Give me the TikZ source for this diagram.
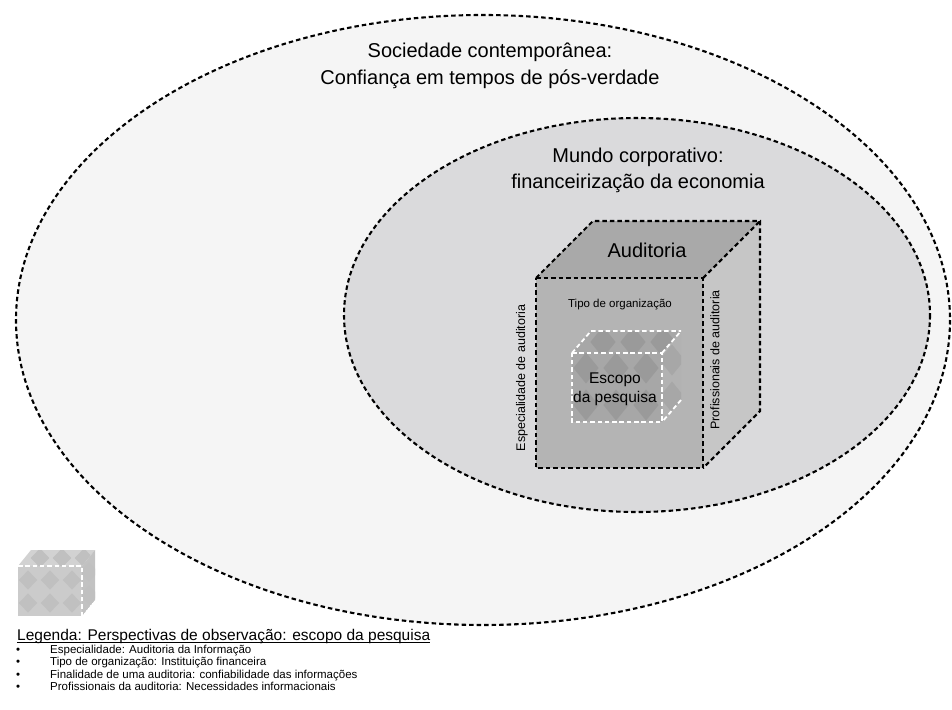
\documentclass[tikz,border=0pt]{standalone}
\usepackage{fontspec}
\setmainfont{Liberation Sans}
\definecolor{societyfill}{HTML}{F5F5F5}
\definecolor{worldfill}{HTML}{DADADC}
\definecolor{cubetop}{HTML}{A9A9A9}
\definecolor{cubefront}{HTML}{B4B4B4}
\definecolor{cuberight}{HTML}{C6C6C6}
\definecolor{scopebase}{HTML}{A7A7A7}
\definecolor{scopedot}{HTML}{9A9A9A}
\definecolor{scoperight}{HTML}{B2B2B2}
\definecolor{keybase}{HTML}{CBCBCB}
\definecolor{keydot}{HTML}{C0C0C0}
\definecolor{keytop}{HTML}{D2D2D2}
\definecolor{keyright}{HTML}{C2C2C2}
% grid of diamonds: first centre (#1,#2), steps #3 and #4, counts #5 and #6, colour #7
\newcommand\argylegrid[7]{%
  \foreach \ci in {0,...,#5}{\foreach \ri in {0,...,#6}{%
    \fill[#7] ({#1+#3*\ci},{#2+#4*\ri-0.42*#4}) -- ++({0.42*#3},{0.42*#4})
      -- ++({-0.42*#3},{0.42*#4}) -- ++({-0.42*#3},{-0.42*#4}) -- cycle;
  }}}
\begin{document}
\begin{tikzpicture}[x=1pt,y=-1pt,
  blackdash/.style={line width=2.1pt, dash pattern=on 4.5pt off 3pt, black},
  whitedash/.style={line width=1.8pt, dash pattern=on 4.5pt off 2.8pt, white},
  bigtext/.style={font=\fontsize{20}{24}\selectfont, anchor=base, inner sep=0pt},
  scopetext/.style={font=\fontsize{15.5}{18}\selectfont, anchor=base, inner sep=0pt},
  facetext/.style={font=\fontsize{11.5}{14}\selectfont, anchor=base, inner sep=0pt},
  sidetext/.style={font=\fontsize{12.5}{15}\selectfont, rotate=90, inner sep=0pt},
  keytitle/.style={font=\fontsize{15.5}{18}\selectfont, anchor=base west, inner sep=0pt},
  keyitem/.style={font=\fontsize{11.5}{13}\selectfont, anchor=base west, inner sep=0pt},
]
\useasboundingbox (0,0) rectangle (952,709);
\fill[white] (0,0) rectangle (952,709);

% outer ring: contemporary society
\fill[societyfill] (483,320) ellipse [x radius=467, y radius=305];
\draw[blackdash] (483,320) ellipse [x radius=467, y radius=305];
\node[bigtext] (society1) at (490,57) {Sociedade contemporânea:};
\node[bigtext] (society2) at (490,84) {Confiança em tempos de pós-verdade};

% inner ring: corporate world
\fill[worldfill] (637,315) ellipse [x radius=293, y radius=197];
\draw[blackdash] (637,315) ellipse [x radius=293, y radius=197];
\node[bigtext] (world1) at (638,162) {Mundo corporativo:};
\node[bigtext] (world2) at (638,188) {financeirização da economia};

% audit cube
\coordinate (a1) at (536,278);
\coordinate (a2) at (703,278);
\coordinate (a3) at (703,468);
\coordinate (a4) at (536,468);
\coordinate (b1) at (593,221);
\coordinate (b2) at (760,221);
\coordinate (b3) at (760,411);
\fill[cubetop] (a1) -- (b1) -- (b2) -- (a2) -- cycle;
\fill[cuberight] (a2) -- (b2) -- (b3) -- (a3) -- cycle;
\fill[cubefront] (a1) -- (a2) -- (a3) -- (a4) -- cycle;
\draw[blackdash] (a1) -- (a2) -- (a3) -- (a4) -- cycle;
\draw[blackdash] (a1) -- (b1) -- (b2) -- (b3) -- (a3);
\draw[blackdash] (a2) -- (b2);
\node[bigtext] (audit) at (647,257) {Auditoria};
\node[facetext] (orgtype) at (620,307) {Tipo de organização};
\node[sidetext] (specialty) at (522,378) {Especialidade de auditoria};
\node[sidetext] (staff) at (715,360) {Profissionais de auditoria};

% research scope cube
\coordinate (c1) at (572,353);
\coordinate (c2) at (662,353);
\coordinate (c3) at (662,422);
\coordinate (c4) at (572,422);
\coordinate (e1) at (591,331);
\coordinate (e2) at (681,331);
\coordinate (e3) at (681,400);
\begin{scope}
  \clip (c1) -- (e1) -- (e2) -- (c2) -- cycle;
  \fill[scopebase] (c1) -- (e1) -- (e2) -- (c2) -- cycle;
  \argylegrid{603}{342}{30}{37}{2}{0}{scopedot}
\end{scope}
\begin{scope}
  \clip (c2) -- (e2) -- (e3) -- (c3) -- cycle;
  \fill[scoperight] (c2) -- (e2) -- (e3) -- (c3) -- cycle;
  \argylegrid{672}{360}{30}{37}{0}{1}{scopebase}
\end{scope}
\begin{scope}
  \clip (c1) -- (c2) -- (c3) -- (c4) -- cycle;
  \fill[scopebase] (c1) -- (c2) -- (c3) -- (c4) -- cycle;
  \argylegrid{586}{368}{30}{37}{2}{1}{scopedot}
\end{scope}
\draw[whitedash] (c1) -- (c2) -- (c3) -- (c4) -- cycle;
\draw[whitedash] (c1) -- (e1) -- (e2);
\draw[whitedash] (c2) -- (e2);
\draw[whitedash] (e3) -- (c3);
\node[scopetext] (scope1) at (615,383.5) {Escopo};
\node[scopetext] (scope2) at (615,402.5) {da pesquisa};

% key symbol
\coordinate (f1) at (18,566);
\coordinate (f2) at (82,566);
\coordinate (f3) at (82,616);
\coordinate (f4) at (18,616);
\coordinate (g1) at (31,550);
\coordinate (g2) at (95,550);
\coordinate (g3) at (95,600);
\begin{scope}
  \clip (f1) -- (g1) -- (g2) -- (f2) -- cycle;
  \fill[keytop] (f1) -- (g1) -- (g2) -- (f2) -- cycle;
  \argylegrid{40}{558}{22}{23}{2}{0}{keydot}
\end{scope}
\begin{scope}
  \clip (f2) -- (g2) -- (g3) -- (f3) -- cycle;
  \fill[keyright] (f2) -- (g2) -- (g3) -- (f3) -- cycle;
  \argylegrid{89}{572}{22}{23}{0}{1}{keydot}
\end{scope}
\begin{scope}
  \clip (f1) -- (f2) -- (f3) -- (f4) -- cycle;
  \fill[keybase] (f1) -- (f2) -- (f3) -- (f4) -- cycle;
  \argylegrid{28}{580}{22}{23}{2}{1}{keydot}
\end{scope}
\draw[whitedash] (f1) -- (f2) -- (f3);

% key text
\node[keytitle] (keyhead) at (17,640.5) {Legenda: Perspectivas de observação: escopo da pesquisa};
\draw[line width=0.8pt] ([yshift=-1.6pt]keyhead.base west) -- ([yshift=-1.6pt]keyhead.base east);
\foreach \n/\yy/\txt in {
  1/653/{Especialidade: Auditoria da Informação},
  2/665.5/{Tipo de organização: Instituição financeira},
  3/678/{Finalidade de uma auditoria: confiabilidade das informações},
  4/690.5/{Profissionais da auditoria: Necessidades informacionais}}{
  \node[keyitem] (dot\n) at (16,\yy) {•};
  \node[keyitem] (item\n) at (50,\yy) {\txt};
}
\end{tikzpicture}
\end{document}
